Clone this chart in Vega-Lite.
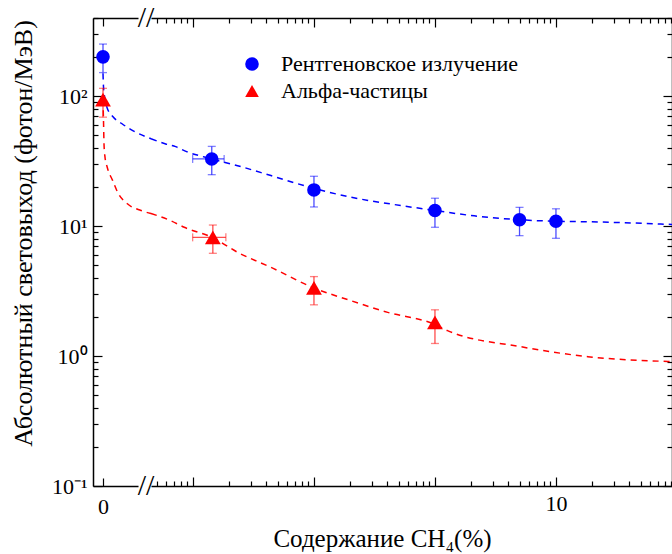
{
  "$schema": "https://vega.github.io/schema/vega-lite/v6.json",
  "padding": {"left": 9, "top": 3, "right": 1, "bottom": 2},
  "bounds": "flush",
  "resolve": {"legend": {"color": "independent", "shape": "independent"}},
  "config": {
    "view": {"stroke": null},
    "font": "Liberation Serif",
    "concat": {"spacing": 13},
    "legend": {"labelFont": "Liberation Serif", "labelLimit": 400},
    "axis": {
      "grid": false,
      "domainColor": "black",
      "domainWidth": 1.5,
      "tickColor": "black",
      "tickWidth": 1.2,
      "labelFont": "Liberation Serif",
      "titleFont": "Liberation Serif",
      "labelColor": "black",
      "titleColor": "black",
      "labelFontSize": 22,
      "titleFontSize": 25,
      "titleFontWeight": "normal"
    }
  },
  "datasets": {
    "curve0": [
      {"series": "Рентгеновское излучение", "x": 0, "y": 150},
      {"series": "Рентгеновское излучение", "x": 0.05, "y": 118},
      {"series": "Рентгеновское излучение", "x": 0.15, "y": 100},
      {"series": "Рентгеновское излучение", "x": 0.4, "y": 82},
      {"series": "Рентгеновское излучение", "x": 1.0, "y": 69.5},
      {"series": "Рентгеновское излучение", "x": 1.9, "y": 61.4},
      {"series": "Рентгеновское излучение", "x": 2.8, "y": 55.3},
      {"series": "Рентгеновское излучение", "x": 3.8, "y": 50.6},
      {"series": "Рентгеновское излучение", "x": 4.8, "y": 47.1},
      {"series": "Альфа-частицы", "x": 0, "y": 95},
      {"series": "Альфа-частицы", "x": 0.03, "y": 75},
      {"series": "Альфа-частицы", "x": 0.06, "y": 60},
      {"series": "Альфа-частицы", "x": 0.1, "y": 43},
      {"series": "Альфа-частицы", "x": 0.2, "y": 34},
      {"series": "Альфа-частицы", "x": 0.43, "y": 28.3},
      {"series": "Альфа-частицы", "x": 0.97, "y": 22.4},
      {"series": "Альфа-частицы", "x": 1.47, "y": 18.2},
      {"series": "Альфа-частицы", "x": 2.47, "y": 14.8},
      {"series": "Альфа-частицы", "x": 3.8, "y": 13.2},
      {"series": "Альфа-частицы", "x": 4.8, "y": 12.5}
    ],
    "curve": [
      {"series": "Рентгеновское излучение", "x": 0.0045, "y": 47.1},
      {"series": "Рентгеновское излучение", "x": 0.00595, "y": 42.9},
      {"series": "Рентгеновское излучение", "x": 0.00719, "y": 40.9},
      {"series": "Рентгеновское излучение", "x": 0.00847, "y": 38.1},
      {"series": "Рентгеновское излучение", "x": 0.0143, "y": 32.9},
      {"series": "Рентгеновское излучение", "x": 0.0234, "y": 29.2},
      {"series": "Рентгеновское излучение", "x": 0.0441, "y": 24.5},
      {"series": "Рентгеновское излучение", "x": 0.0831, "y": 20.5},
      {"series": "Рентгеновское излучение", "x": 0.202, "y": 16.7},
      {"series": "Рентгеновское излучение", "x": 0.433, "y": 14.8},
      {"series": "Рентгеновское излучение", "x": 1, "y": 13.2},
      {"series": "Рентгеновское излучение", "x": 2.11, "y": 12.0},
      {"series": "Рентгеновское излучение", "x": 5, "y": 11.2},
      {"series": "Рентгеновское излучение", "x": 10, "y": 10.9},
      {"series": "Рентгеновское излучение", "x": 19.5, "y": 10.8},
      {"series": "Рентгеновское излучение", "x": 91, "y": 10.3},
      {"series": "Альфа-частицы", "x": 0.0045, "y": 12.5},
      {"series": "Альфа-частицы", "x": 0.00658, "y": 11.0},
      {"series": "Альфа-частицы", "x": 0.00847, "y": 9.8},
      {"series": "Альфа-частицы", "x": 0.0146, "y": 8.16},
      {"series": "Альфа-частицы", "x": 0.0234, "y": 6.29},
      {"series": "Альфа-частицы", "x": 0.0441, "y": 4.82},
      {"series": "Альфа-частицы", "x": 0.0994, "y": 3.35},
      {"series": "Альфа-частицы", "x": 0.202, "y": 2.67},
      {"series": "Альфа-частицы", "x": 0.407, "y": 2.17},
      {"series": "Альфа-частицы", "x": 1, "y": 1.75},
      {"series": "Альфа-частицы", "x": 1.27, "y": 1.57},
      {"series": "Альфа-частицы", "x": 5.14, "y": 1.18},
      {"series": "Альфа-частицы", "x": 18.3, "y": 0.99},
      {"series": "Альфа-частицы", "x": 91, "y": 0.907}
    ],
    "pts0": [
      {"series": "Рентгеновское излучение", "x": 0, "y": 201, "lo": 152, "hi": 252},
      {"series": "Альфа-частицы", "x": 0, "y": 94, "lo": 69, "hi": 115}
    ],
    "pts": [
      {"series": "Рентгеновское излучение", "x": 0.0143, "y": 32.9, "lo": 24.9, "hi": 41.1, "xlo": 0.00994, "xhi": 0.0181},
      {"series": "Рентгеновское излучение", "x": 0.1, "y": 19.0, "lo": 14.05, "hi": 24.2},
      {"series": "Рентгеновское излучение", "x": 1, "y": 13.2, "lo": 9.8, "hi": 16.4},
      {"series": "Рентгеновское излучение", "x": 5, "y": 11.2, "lo": 8.45, "hi": 13.95},
      {"series": "Рентгеновское излучение", "x": 10, "y": 10.9, "lo": 8.06, "hi": 13.6},
      {"series": "Альфа-частицы", "x": 0.0146, "y": 8.2, "lo": 6.18, "hi": 10.2, "xlo": 0.00994, "xhi": 0.0187},
      {"series": "Альфа-частицы", "x": 0.1, "y": 3.35, "lo": 2.48, "hi": 4.09},
      {"series": "Альфа-частицы", "x": 1, "y": 1.82, "lo": 1.25, "hi": 2.27}
    ]
  },
  "hconcat": [
    {
      "width": 45,
      "height": 468,
      "resolve": {"axis": {"x": "independent", "y": "independent"}},
      "layer": [
        {
          "data": {"name": "curve0"},
          "mark": {"type": "line", "strokeDash": [6, 5], "strokeWidth": 1.5, "interpolate": "monotone"},
          "encoding": {
            "x": {"field": "x", "type": "quantitative", "scale": {"domain": [-1, 3.5], "nice": false, "zero": false},
              "axis": {"orient": "bottom", "values": [0], "title": null, "labelExpr": "'0'", "tickSize": -8, "labelPadding": 18}},
            "y": {"field": "y", "type": "quantitative", "scale": {"type": "log", "domain": [0.1, 400], "nice": false},
              "axis": {"orient": "left", "title": "Абсолютный световыход (фотон/МэВ)", "titleFontSize": 26,
                "titleX": -70, "titleY": 215, "titleAngle": -90, "titleAlign": "center", "titleBaseline": "middle", "titleAnchor": null,
                "values": [0.1,0.2,0.3,0.4,0.5,0.6,0.7,0.8,0.9,1,2,3,4,5,6,7,8,9,10,20,30,40,50,60,70,80,90,100,200,300,400],
                "labelExpr": "datum.value==100?'10²':datum.value==10?'10¹':datum.value==1?'10⁰':datum.value==0.1?'10⁻¹':''",
                "tickSize": {"condition": {"test": "indexof([0.1,1,10,100], datum.value) >= 0", "value": -9}, "value": -5},
                "labelPadding": 15}},
            "stroke": {"field": "series", "type": "nominal",
              "scale": {"domain": ["Рентгеновское излучение", "Альфа-частицы"], "range": ["#0000ff", "#ff0000"]}, "legend": null}
          }
        },
        {
          "data": {"name": "pts0"},
          "mark": {"type": "rule", "strokeWidth": 1.3, "strokeOpacity": 0.7},
          "encoding": {
            "x": {"field": "x", "type": "quantitative", "axis": null},
            "y": {"field": "lo", "type": "quantitative", "axis": null},
            "y2": {"field": "hi"},
            "stroke": {"field": "series", "type": "nominal", "legend": null}
          }
        },
        {
          "data": {"name": "pts0"},
          "transform": [{"fold": ["lo", "hi"], "as": ["end", "yv"]}],
          "mark": {"type": "point", "shape": "stroke", "size": 64, "strokeWidth": 1.3, "strokeOpacity": 0.7, "filled": false},
          "encoding": {
            "x": {"field": "x", "type": "quantitative", "axis": null},
            "y": {"field": "yv", "type": "quantitative", "axis": null},
            "stroke": {"field": "series", "type": "nominal", "legend": null}
          }
        },
        {
          "data": {"name": "pts0"},
          "transform": [{"filter": "datum.series == 'Рентгеновское излучение'"}],
          "mark": {"type": "point", "filled": true, "opacity": 1, "size": 185},
          "encoding": {
            "x": {"field": "x", "type": "quantitative",
              "axis": {"orient": "top", "values": [0], "labels": false, "title": null, "tickSize": -8}},
            "y": {"field": "y", "type": "quantitative", "axis": null},
            "color": {"field": "series", "type": "nominal",
              "scale": {"domain": ["Рентгеновское излучение", "Альфа-частицы"], "range": ["#0000ff", "#ff0000"]}, "legend": null},
            "shape": {"field": "series", "type": "nominal",
              "scale": {"domain": ["Рентгеновское излучение", "Альфа-частицы"], "range": ["circle", "triangle-up"]}, "legend": null}
          }
        },
        {
          "data": {"name": "pts0"},
          "transform": [{"filter": "datum.series == 'Альфа-частицы'"}],
          "mark": {"type": "point", "filled": true, "opacity": 1, "size": 250},
          "encoding": {
            "x": {"field": "x", "type": "quantitative", "axis": null},
            "y": {"field": "y", "type": "quantitative", "axis": null},
            "color": {"field": "series", "type": "nominal", "legend": null},
            "shape": {"field": "series", "type": "nominal", "legend": null}
          }
        },
        {
          "data": {"values": [{}]},
          "mark": {"type": "text", "text": "//", "fontSize": 30, "font": "Liberation Serif", "color": "black"},
          "encoding": {"x": {"datum": 4.3, "type": "quantitative", "axis": null}, "y": {"datum": 0.1, "type": "quantitative", "axis": null}}
        },
        {
          "data": {"values": [{}]},
          "mark": {"type": "text", "text": "//", "fontSize": 30, "font": "Liberation Serif", "color": "black"},
          "encoding": {"x": {"datum": 4.3, "type": "quantitative", "axis": null}, "y": {"datum": 400, "type": "quantitative", "axis": null}}
        }
      ]
    },
    {
      "width": 521,
      "height": 468,
      "resolve": {"axis": {"x": "independent", "y": "independent"}},
      "layer": [
        {
          "data": {"name": "curve"},
          "mark": {"type": "line", "strokeDash": [6, 5], "strokeWidth": 1.5, "interpolate": "monotone"},
          "encoding": {
            "x": {"field": "x", "type": "quantitative", "scale": {"type": "log", "domain": [0.0045, 91], "nice": false},
              "axis": {"orient": "bottom", "title": "Содержание CH₄(%)", "titleX": 231, "titleY": 40, "titleAnchor": null, "titleAlign": "center", "titleBaseline": "top",
                "values": [0.005,0.006,0.007,0.008,0.009,0.01,0.02,0.03,0.04,0.05,0.06,0.07,0.08,0.09,0.1,0.2,0.3,0.4,0.5,0.6,0.7,0.8,0.9,1,2,3,4,5,6,7,8,9,10,20,30,40,50,60,70,80,90],
                "labelExpr": "datum.value==10?'10':''",
                "tickSize": {"condition": {"test": "indexof([0.01,0.1,1,10], datum.value) >= 0", "value": -9}, "value": -5},
                "labelPadding": 16}},
            "y": {"field": "y", "type": "quantitative", "scale": {"type": "log", "domain": [0.1, 400], "nice": false},
              "axis": {"orient": "right", "title": null, "labels": false,
                "values": [0.1,0.2,0.3,0.4,0.5,0.6,0.7,0.8,0.9,1,2,3,4,5,6,7,8,9,10,20,30,40,50,60,70,80,90,100,200,300,400],
                "tickSize": {"condition": {"test": "indexof([0.1,1,10,100], datum.value) >= 0", "value": -9}, "value": -5}}},
            "stroke": {"field": "series", "type": "nominal", "legend": null}
          }
        },
        {
          "data": {"name": "pts"},
          "mark": {"type": "rule", "strokeWidth": 1.3, "strokeOpacity": 0.7},
          "encoding": {
            "x": {"field": "x", "type": "quantitative", "axis": null},
            "y": {"field": "lo", "type": "quantitative", "axis": null},
            "y2": {"field": "hi"},
            "stroke": {"field": "series", "type": "nominal", "legend": null}
          }
        },
        {
          "data": {"name": "pts"},
          "transform": [{"fold": ["lo", "hi"], "as": ["end", "yv"]}],
          "mark": {"type": "point", "shape": "stroke", "size": 64, "strokeWidth": 1.3, "strokeOpacity": 0.7, "filled": false},
          "encoding": {
            "x": {"field": "x", "type": "quantitative", "axis": null},
            "y": {"field": "yv", "type": "quantitative", "axis": null},
            "stroke": {"field": "series", "type": "nominal", "legend": null}
          }
        },
        {
          "data": {"name": "pts"},
          "transform": [{"filter": "isValid(datum.xlo)"}],
          "mark": {"type": "rule", "strokeWidth": 1.3, "strokeOpacity": 0.7},
          "encoding": {
            "x": {"field": "xlo", "type": "quantitative", "axis": null},
            "x2": {"field": "xhi"},
            "y": {"field": "y", "type": "quantitative", "axis": null},
            "stroke": {"field": "series", "type": "nominal", "legend": null}
          }
        },
        {
          "data": {"name": "pts"},
          "transform": [{"filter": "isValid(datum.xlo)"}, {"fold": ["xlo", "xhi"], "as": ["end", "xv"]}],
          "mark": {"type": "point", "shape": "stroke", "angle": 90, "size": 64, "strokeWidth": 1.3, "strokeOpacity": 0.7, "filled": false},
          "encoding": {
            "x": {"field": "xv", "type": "quantitative", "axis": null},
            "y": {"field": "y", "type": "quantitative", "axis": null},
            "stroke": {"field": "series", "type": "nominal", "legend": null}
          }
        },
        {
          "data": {"name": "pts"},
          "transform": [{"filter": "datum.series == 'Рентгеновское излучение'"}],
          "mark": {"type": "point", "filled": true, "opacity": 1, "size": 185},
          "encoding": {
            "x": {"field": "x", "type": "quantitative",
              "axis": {"orient": "top", "labels": false, "title": null,
                "values": [0.005,0.006,0.007,0.008,0.009,0.01,0.02,0.03,0.04,0.05,0.06,0.07,0.08,0.09,0.1,0.2,0.3,0.4,0.5,0.6,0.7,0.8,0.9,1,2,3,4,5,6,7,8,9,10,20,30,40,50,60,70,80,90],
                "tickSize": {"condition": {"test": "indexof([0.01,0.1,1,10], datum.value) >= 0", "value": -9}, "value": -5}}},
            "y": {"field": "y", "type": "quantitative", "axis": null},
            "color": {"field": "series", "type": "nominal",
              "legend": {"title": null, "orient": "none", "legendX": 90, "legendY": 35, "padding": 0, "symbolSize": 185, "labelFontSize": 22, "labelFont": "Liberation Serif", "labelColor": "black", "labelOffset": 18, "labelLimit": 400, "rowPadding": 5, "symbolStrokeWidth": 0}},
            "shape": {"field": "series", "type": "nominal",
              "legend": {"title": null, "orient": "none", "legendX": 90, "legendY": 35, "padding": 0, "symbolSize": 185, "labelFontSize": 22, "labelFont": "Liberation Serif", "labelColor": "black", "labelOffset": 18, "labelLimit": 400, "rowPadding": 5, "symbolStrokeWidth": 0}}
          }
        },
        {
          "data": {"name": "pts"},
          "transform": [{"filter": "datum.series == 'Альфа-частицы'"}],
          "mark": {"type": "point", "filled": true, "opacity": 1, "size": 250},
          "encoding": {
            "x": {"field": "x", "type": "quantitative", "axis": null},
            "y": {"field": "y", "type": "quantitative", "axis": null},
            "color": {"field": "series", "type": "nominal",
              "legend": {"title": null, "orient": "none", "legendX": 90, "legendY": 35, "padding": 0, "symbolSize": 185, "labelFontSize": 22, "labelFont": "Liberation Serif", "labelColor": "black", "labelOffset": 18, "labelLimit": 400, "rowPadding": 5, "symbolStrokeWidth": 0}},
            "shape": {"field": "series", "type": "nominal",
              "legend": {"title": null, "orient": "none", "legendX": 90, "legendY": 35, "padding": 0, "symbolSize": 185, "labelFontSize": 22, "labelFont": "Liberation Serif", "labelColor": "black", "labelOffset": 18, "labelLimit": 400, "rowPadding": 5, "symbolStrokeWidth": 0}}
          }
        }
      ]
    }
  ]
}
